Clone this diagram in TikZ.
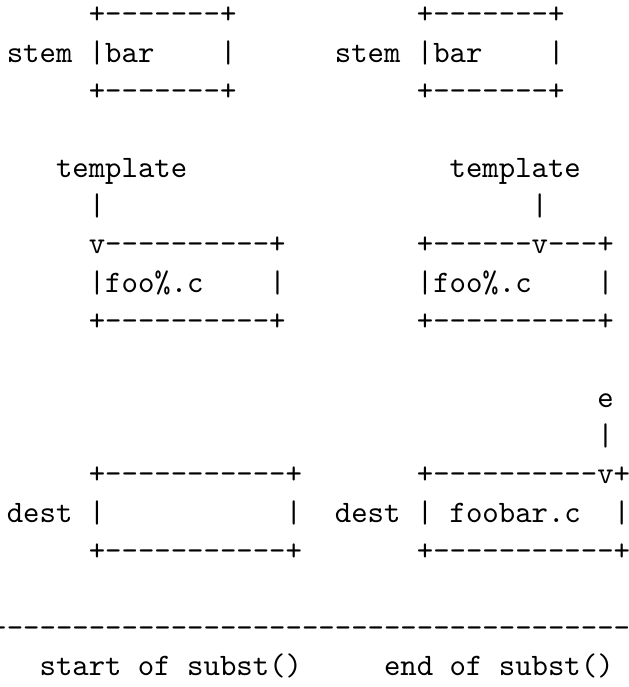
\documentclass[tikz,border=0pt]{standalone}
\usepackage{tikz}

\tikzset{
  ascii/.style={font=\ttfamily, anchor=base west, inner sep=0pt, outer sep=0pt},
  label/.style={ascii},
  edge/.style={ascii}
}

\begin{document}
\begin{tikzpicture}[x=5.25pt, y=-12.27pt]
  \useasboundingbox (-2.18pt,7.59pt) rectangle (199.1pt,-212.3pt);

  % stem boxes
  \node[ascii] (stemtopL) at (5,0) {+-------+};
  \node[label] (stemL)    at (0,1) {stem};
  \node[ascii] (barL)     at (5,1) {|bar};
  \node[ascii] (barendL)  at (13,1) {|};
  \node[ascii] (stembotL) at (5,2) {+-------+};

  \node[ascii] (stemtopR) at (25,0) {+-------+};
  \node[label] (stemR)    at (20,1) {stem};
  \node[ascii] (barR)     at (25,1) {|bar};
  \node[ascii] (barendR)  at (33,1) {|};
  \node[ascii] (stembotR) at (25,2) {+-------+};

  % template pointers
  \node[label] (tmplL) at (3,4) {template};
  \node[edge]  (tmplbarL) at (5,5) {|};
  \node[label] (tmplR) at (27,4) {template};
  \node[edge]  (tmplbarR) at (32,5) {|};

  % foo%.c boxes
  \node[ascii] (footopL) at (5,6) {v----------+};
  \node[ascii] (fooL)    at (5,7) {|foo\%.c};
  \node[ascii] (fooendL) at (16,7) {|};
  \node[ascii] (foobotL) at (5,8) {+----------+};

  \node[ascii] (footopR) at (25,6) {+------v---+};
  \node[ascii] (fooR)    at (25,7) {|foo\%.c};
  \node[ascii] (fooendR) at (36,7) {|};
  \node[ascii] (foobotR) at (25,8) {+----------+};

  % e pointer
  \node[label] (e)    at (36,10) {e};
  \node[edge]  (ebar) at (36,11) {|};

  % dest boxes
  \node[ascii] (desttopL) at (5,12) {+-----------+};
  \node[label] (destL)    at (0,13) {dest};
  \node[ascii] (destinL)  at (5,13) {|};
  \node[ascii] (destendL) at (17,13) {|};
  \node[ascii] (destbotL) at (5,14) {+-----------+};

  \node[ascii] (desttopR) at (25,12) {+----------v+};
  \node[label] (destR)    at (20,13) {dest};
  \node[ascii] (destinR)  at (25,13) {|};
  \node[ascii] (foobar)   at (27,13) {foobar.c};
  \node[ascii] (destendR) at (37,13) {|};
  \node[ascii] (destbotR) at (25,14) {+-----------+};

  % rule and captions
  \node[ascii] (rule) at (-1,16) {-----------------------------------------};
  \node[label] (startcap) at (2,17) {start of subst()};
  \node[label] (endcap)   at (23,17) {end of subst()};
\end{tikzpicture}
\end{document}
